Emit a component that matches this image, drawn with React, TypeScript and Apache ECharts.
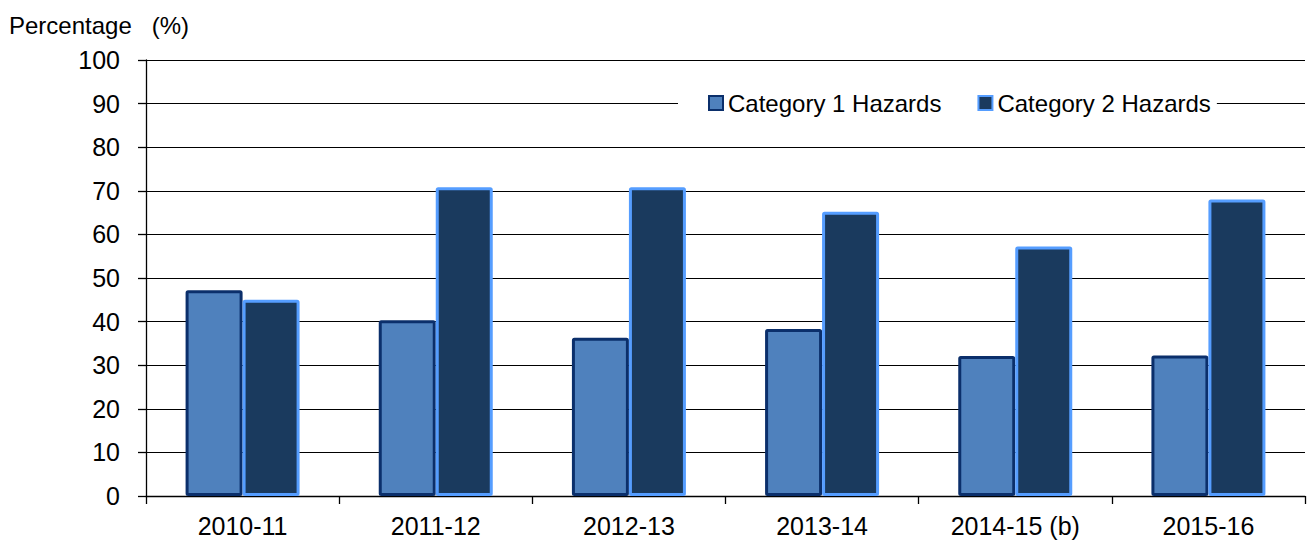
import React, { useEffect, useRef } from "react";
import * as echarts from "echarts";

const categories = ["2010-11", "2011-12", "2012-13", "2013-14", "2014-15 (b)", "2015-16"];
const category1 = [47.2, 40.3, 36.3, 38.3, 32.1, 32.2];
const category2 = [45.0, 70.8, 70.8, 65.2, 57.2, 68.0];
const seriesNames = ["Category 1 Hazards", "Category 2 Hazards"];
const yTicks = { min: 0, max: 100, interval: 10 };

const FONT = "'Liberation Sans', Arial, sans-serif";

export default function App() {
  const ref = useRef<HTMLDivElement>(null);
  useEffect(() => {
    if (!ref.current) return;
    const chart = echarts.init(ref.current, undefined, { renderer: "svg" });
    chart.setOption({
      animation: false,
      backgroundColor: "#ffffff",
      textStyle: { fontFamily: FONT, color: "#000" },
      title: {
        text: "Percentage   (%)",
        left: 9,
        top: 13,
        padding: 0,
        textStyle: { fontFamily: FONT, fontSize: 24, fontWeight: "normal", color: "#000" },
      },
      legend: {
        data: seriesNames,
        icon: "rect",
        left: 678,
        top: 88,
        padding: [3, 6, 3, 30],
        itemGap: 36,
        itemWidth: 14,
        itemHeight: 14,
        backgroundColor: "#ffffff",
        textStyle: { fontFamily: FONT, fontSize: 24, color: "#000" },
        itemStyle: { borderWidth: 2 },
      },
      grid: { left: 146, right: 4, top: 60, bottom: 46, containLabel: false },
      xAxis: {
        type: "category",
        data: categories,
        axisLine: { lineStyle: { color: "#000", width: 1.3 } },
        axisTick: { show: true, length: 8, lineStyle: { color: "#000", width: 1.3 } },
        axisLabel: { fontFamily: FONT, fontSize: 25, color: "#000", margin: 17 },
      },
      yAxis: {
        type: "value",
        min: yTicks.min,
        max: yTicks.max,
        interval: yTicks.interval,
        axisLine: { show: true, lineStyle: { color: "#000", width: 1.3 } },
        axisTick: { show: true, length: 8, lineStyle: { color: "#000", width: 1.3 } },
        axisLabel: { fontFamily: FONT, fontSize: 25, color: "#000", margin: 26 },
        splitLine: { show: true, lineStyle: { color: "#000", width: 1.2 } },
      },
      series: [
        {
          name: seriesNames[0],
          type: "bar",
          data: category1,
          barWidth: 57,
          barGap: "0%",
          itemStyle: { color: "#4F81BD", borderColor: "#0B2F6B", borderWidth: 3, borderRadius: 1 },
        },
        {
          name: seriesNames[1],
          type: "bar",
          data: category2,
          barWidth: 57,
          barGap: "0%",
          itemStyle: { color: "#1A3A5E", borderColor: "#559DFF", borderWidth: 3, borderRadius: 1 },
        },
      ],
    });
    return () => chart.dispose();
  }, []);
  return (
    <div
      ref={ref}
      style={{ position: "fixed", left: 0, top: 0, width: 1309, height: 542 }}
    />
  );
}
